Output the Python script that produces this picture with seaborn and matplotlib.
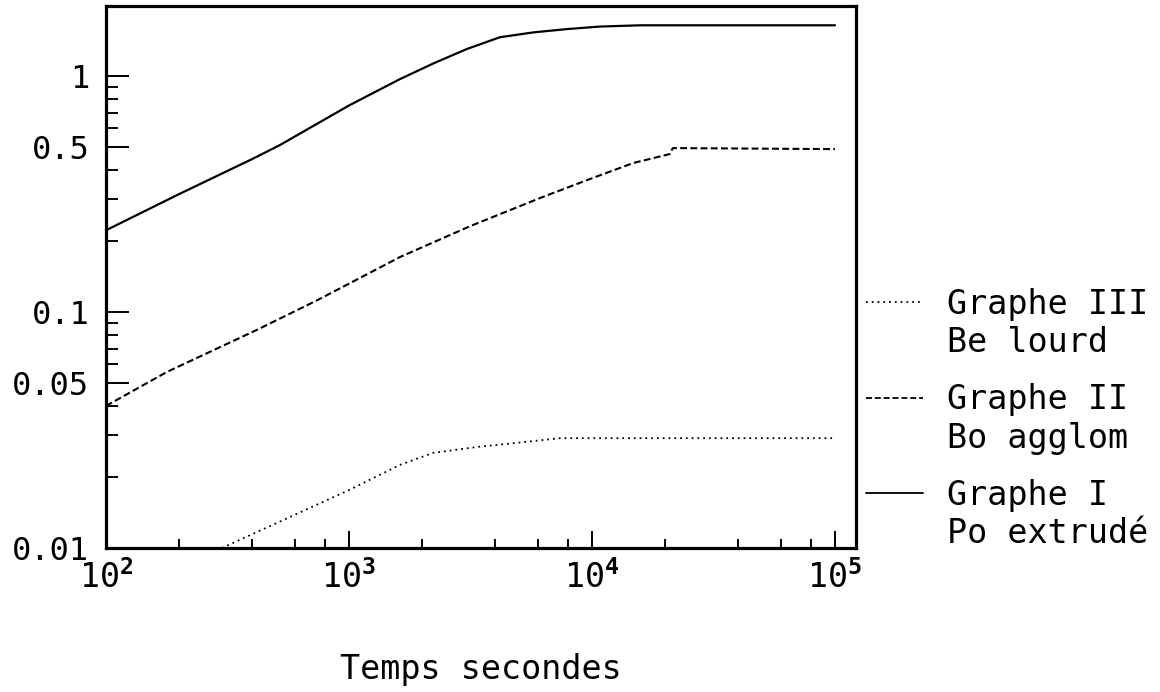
import numpy as np
import pandas as pd
import matplotlib
matplotlib.use("Agg")
import matplotlib.pyplot as plt
import matplotlib.ticker as mticker
from matplotlib.lines import Line2D
from matplotlib.legend_handler import HandlerLine2D
import seaborn as sns

# ---- data ----
x_graphe1 = [100, 200, 400, 520, 1000, 1620, 2223, 3048, 4180, 5730, 7860, 10790, 15770, 100000]
y_graphe1 = [0.222, 0.316, 0.445, 0.51, 0.75, 0.97, 1.13, 1.30, 1.46, 1.53, 1.58, 1.62, 1.64, 1.64]

x_graphe2 = [100, 178, 418, 738, 1622, 3150, 6110, 9530, 14800, 20900, 21500, 100000]
y_graphe2 = [0.040, 0.0557, 0.084, 0.112, 0.171, 0.231, 0.304, 0.362, 0.428, 0.467, 0.495, 0.49]

x_graphe3 = [300, 1000, 1622, 2218, 3365, 4910, 7380, 100000]
y_graphe3 = [0.010, 0.0176, 0.0225, 0.0253, 0.0268, 0.0279, 0.0292, 0.0292]

series_names = ["Graphe I\nPo extrudé", "Graphe II\nBo agglom", "Graphe III\nBe lourd"]

x_major_ticks = [1e2, 1e3, 1e4, 1e5]
x_tick_labels = [r"$\mathrm{10}^{\mathbf{2}}$", r"$\mathrm{10}^{\mathbf{3}}$",
                 r"$\mathrm{10}^{\mathbf{4}}$", r"$\mathrm{10}^{\mathbf{5}}$"]
x_minor_ticks = [m * 10 ** e for e in (2, 3, 4) for m in (2, 4, 6, 8)]

y_major_ticks = [0.01, 0.05, 0.1, 0.5, 1]
y_tick_labels = ["0.01", "0.05", "0.1", "0.5", "1"]
y_minor_ticks = [0.02, 0.03, 0.04, 0.06, 0.07, 0.08, 0.09,
                 0.2, 0.3, 0.4, 0.6, 0.7, 0.8, 0.9]

x_label = "Temps secondes"

# ---- style ----
sns.set_theme(style="white")
plt.rcParams["font.family"] = ["DejaVu Sans Mono", "DejaVu Sans"]
plt.rcParams["mathtext.fontset"] = "custom"
plt.rcParams["mathtext.rm"] = "DejaVu Sans Mono"
plt.rcParams["mathtext.bf"] = "DejaVu Sans Mono:bold"
plt.rcParams["mathtext.it"] = "DejaVu Sans Mono"

fig = plt.figure(figsize=(11.6, 6.92), dpi=100)
ax = fig.add_axes([106 / 1160, 1 - 548 / 692, 750 / 1160, 542 / 692])

df1 = pd.DataFrame({"t": x_graphe1, "v": y_graphe1})
df2 = pd.DataFrame({"t": x_graphe2, "v": y_graphe2})
df3 = pd.DataFrame({"t": x_graphe3, "v": y_graphe3})

sns.lineplot(data=df1, x="t", y="v", ax=ax, color="black", lw=1.6, sort=False,
             label=series_names[0])
sns.lineplot(data=df2, x="t", y="v", ax=ax, color="black", lw=1.5, sort=False,
             label=series_names[1], linestyle=(0, (3.3, 1.6)))
sns.lineplot(data=df3, x="t", y="v", ax=ax, color="black", lw=1.3, sort=False,
             label=series_names[2], linestyle=(0, (1, 2.2)))

ax.set_xscale("log")
ax.set_yscale("log")
ax.set_xlim(100, 10 ** (2 + 750 / 243))
ax.set_ylim(0.01, 10 ** (-2 + 542 / 236))

ax.xaxis.set_major_locator(mticker.FixedLocator(x_major_ticks))
ax.xaxis.set_major_formatter(mticker.FixedFormatter(x_tick_labels))
ax.xaxis.set_minor_locator(mticker.FixedLocator(x_minor_ticks))
ax.xaxis.set_minor_formatter(mticker.NullFormatter())
ax.yaxis.set_major_locator(mticker.FixedLocator(y_major_ticks))
ax.yaxis.set_major_formatter(mticker.FixedFormatter(y_tick_labels))
ax.yaxis.set_minor_locator(mticker.FixedLocator(y_minor_ticks))
ax.yaxis.set_minor_formatter(mticker.NullFormatter())

ax.tick_params(axis="x", which="major", direction="in", length=12, width=1.4,
               labelsize=24, pad=9, color="black", labelcolor="black",
               bottom=True, top=False)
ax.tick_params(axis="x", which="minor", direction="in", length=6.5, width=1.4,
               color="black", bottom=True, top=False)
ax.tick_params(axis="y", which="major", direction="in", length=16.5, width=1.4,
               labelsize=23, pad=12, color="black", labelcolor="black",
               left=True, right=False)
ax.tick_params(axis="y", which="minor", direction="in", length=8.6, width=1.4,
               color="black", left=True, right=False)

for sp in ax.spines.values():
    sp.set_visible(True)
    sp.set_color("black")
    sp.set_linewidth(2.3)

ax.set_ylabel("")
ax.set_xlabel(x_label, fontsize=24, color="black")
ax.xaxis.set_label_coords(0.5, -0.194)


# legend: order III, II, I ; handle aligned with the first text line
class RaisedLine(HandlerLine2D):
    def create_artists(self, legend, orig_handle, xdescent, ydescent,
                       width, height, fontsize, trans):
        arts = super().create_artists(legend, orig_handle, xdescent, ydescent,
                                      width, height, fontsize, trans)
        for a in arts:
            a.set_ydata(np.asarray(a.get_ydata(), dtype=float) + 0.68 * fontsize)
        return arts


lines = ax.get_lines()
handles = [lines[2], lines[1], lines[0]]
labels = [series_names[2], series_names[1], series_names[0]]
if ax.get_legend() is not None:
    ax.get_legend().remove()
leg = ax.legend(handles, labels, loc="center left",
                bbox_to_anchor=(866 / 1160, 1 - 419 / 692),
                bbox_transform=fig.transFigure, frameon=False,
                fontsize=24, handlelength=1.71, handletextpad=0.72,
                borderpad=0, borderaxespad=0, labelspacing=0.72,
                handler_map={Line2D: RaisedLine()})
for t in leg.get_texts():
    t.set_linespacing(1.2)
    t.set_color("black")
for h in leg.legend_handles:
    h.set_linewidth(1.3)

fig.savefig("out.png", dpi=100, facecolor="white")
